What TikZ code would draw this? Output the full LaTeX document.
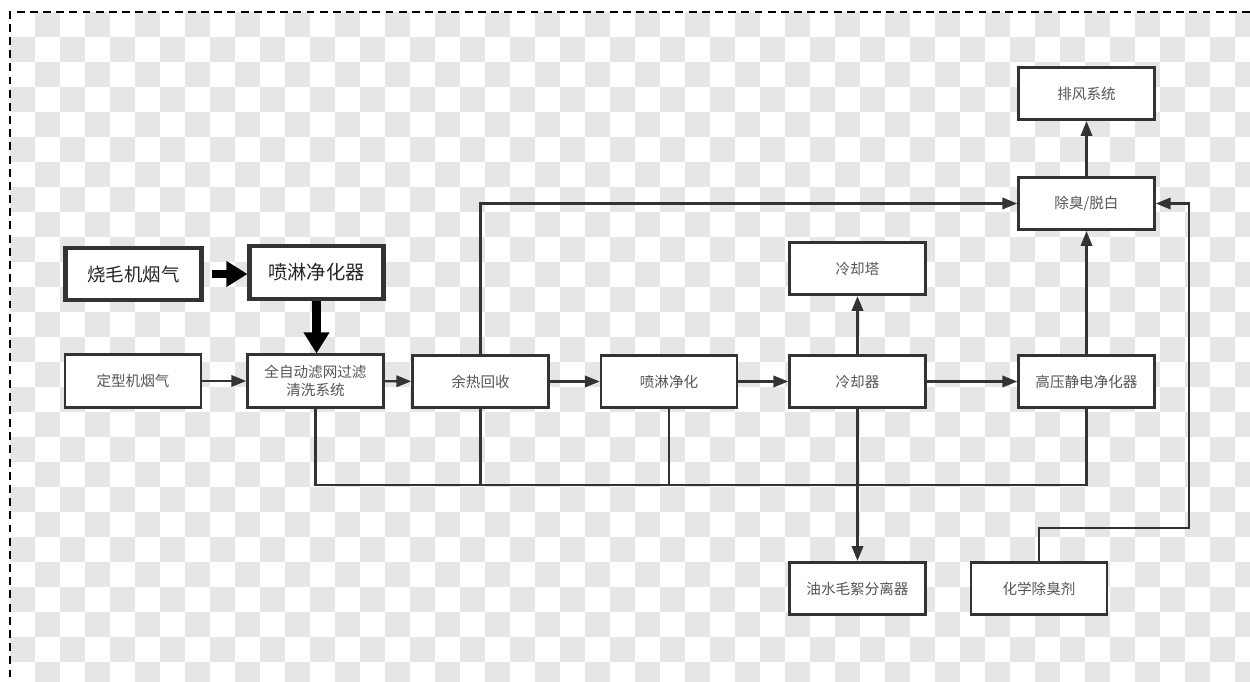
\documentclass[tikz,border=0pt]{standalone}
\usepackage{fontspec}
\newfontfamily\cjk{Noto Sans CJK SC}
\usetikzlibrary{arrows.meta}
\definecolor{chk}{HTML}{E6E6E6}
\definecolor{bd}{HTML}{333333}
\definecolor{tx}{HTML}{555555}
\tikzset{
 box/.style={draw=bd, fill=white, line width=1.45pt, minimum width=2.72cm, minimum height=1.05cm, inner sep=0pt, font=\cjk\fontsize{8.3}{10.4}\selectfont, text=tx, align=center},
 boldbox/.style={box, line width=2.3pt, text=black!85},
 flow/.style={draw=bd, line width=1.35pt, -{Triangle[length=8.5pt,width=6.5pt]}},
 link/.style={draw=bd, line width=1.35pt},
 bigflow/.style={draw=black, line width=5pt, -{Triangle[length=12pt,width=14pt]}}
}
\begin{document}
\begin{tikzpicture}[x=0.02cm,y=-0.02cm]
\useasboundingbox (0,0) rectangle (1250,682);
% transparency checkerboard
\begin{scope}
\clip (10,12) rectangle (1250,682);
\foreach \i in {0,...,49}{
  \foreach \j in {0,...,26}{
    \pgfmathparse{int(mod(\i+\j,2))}
    \ifnum\pgfmathresult=1
      \fill[chk] ({10+25*\i},{12+25*\j}) rectangle ++(25,25);
    \fi
  }
}
\end{scope}
\draw[black, line width=0.9pt, dash pattern=on 4.5pt off 3pt] (1250,12) -- (10,12) -- (10,682);

% nodes
\node[boldbox, font=\cjk\fontsize{10.5}{12}\selectfont] (smj) at (133.5,274) {烧毛机烟气};
\node[boldbox, font=\cjk\fontsize{11}{13}\selectfont, minimum width=2.68cm] (plq) at (316.5,272.5) {喷淋净化器};
\node[box] (dx) at (133,381) {定型机烟气};
\node[box] (qz) at (315.5,381) {全自动滤网过滤\\清洗系统};
\node[box] (yr) at (480.5,381.5) {余热回收};
\node[box] (pl) at (669,381.5) {喷淋净化};
\node[box] (lqq) at (857.5,381.5) {冷却器};
\node[box] (gy) at (1086.5,381.5) {高压静电净化器};
\node[box] (lqt) at (857.5,268.5) {冷却塔};
\node[box] (cc) at (1086.5,203.5) {除臭/脱白};
\node[box] (pf) at (1086.5,93.5) {排风系统};
\node[box] (ys) at (857.5,588.5) {油水毛絮分离器};
\node[box] (hx) at (1039,588.5) {化学除臭剂};

% thick arrows
\draw[bigflow, shorten <=5pt] (smj.east) -- (smj.east -| plq.west);
\draw[bigflow] (plq.south) -- (plq.south |- qz.north);

% main flow
\draw[flow] (dx) -- (qz);
\draw[flow] (qz) -- (yr);
\draw[flow] (yr) -- (pl);
\draw[flow] (pl) -- (lqq);
\draw[flow] (lqq) -- (gy);

% collection bus
\coordinate (bus) at (0,485);
\draw[link] (qz.south) -- (qz.south |- bus) -- (gy.south |- bus) -- (gy.south);
\draw[link] (yr.south) -- (yr.south |- bus);
\draw[link] (pl.south) -- (pl.south |- bus);
\draw[flow] (lqq.south) -- (ys.north);
\draw[flow] (lqq.north) -- (lqt.south);

% upper branch
\draw[flow] (yr.north) |- (cc.west);
\draw[flow] (gy.north) -- (cc.south);
\draw[flow] (cc.north) -- (pf.south);
\coordinate (rt) at (1189,528);
\draw[flow] (hx.north) |- (rt) |- (cc.east);
\end{tikzpicture}
\end{document}
